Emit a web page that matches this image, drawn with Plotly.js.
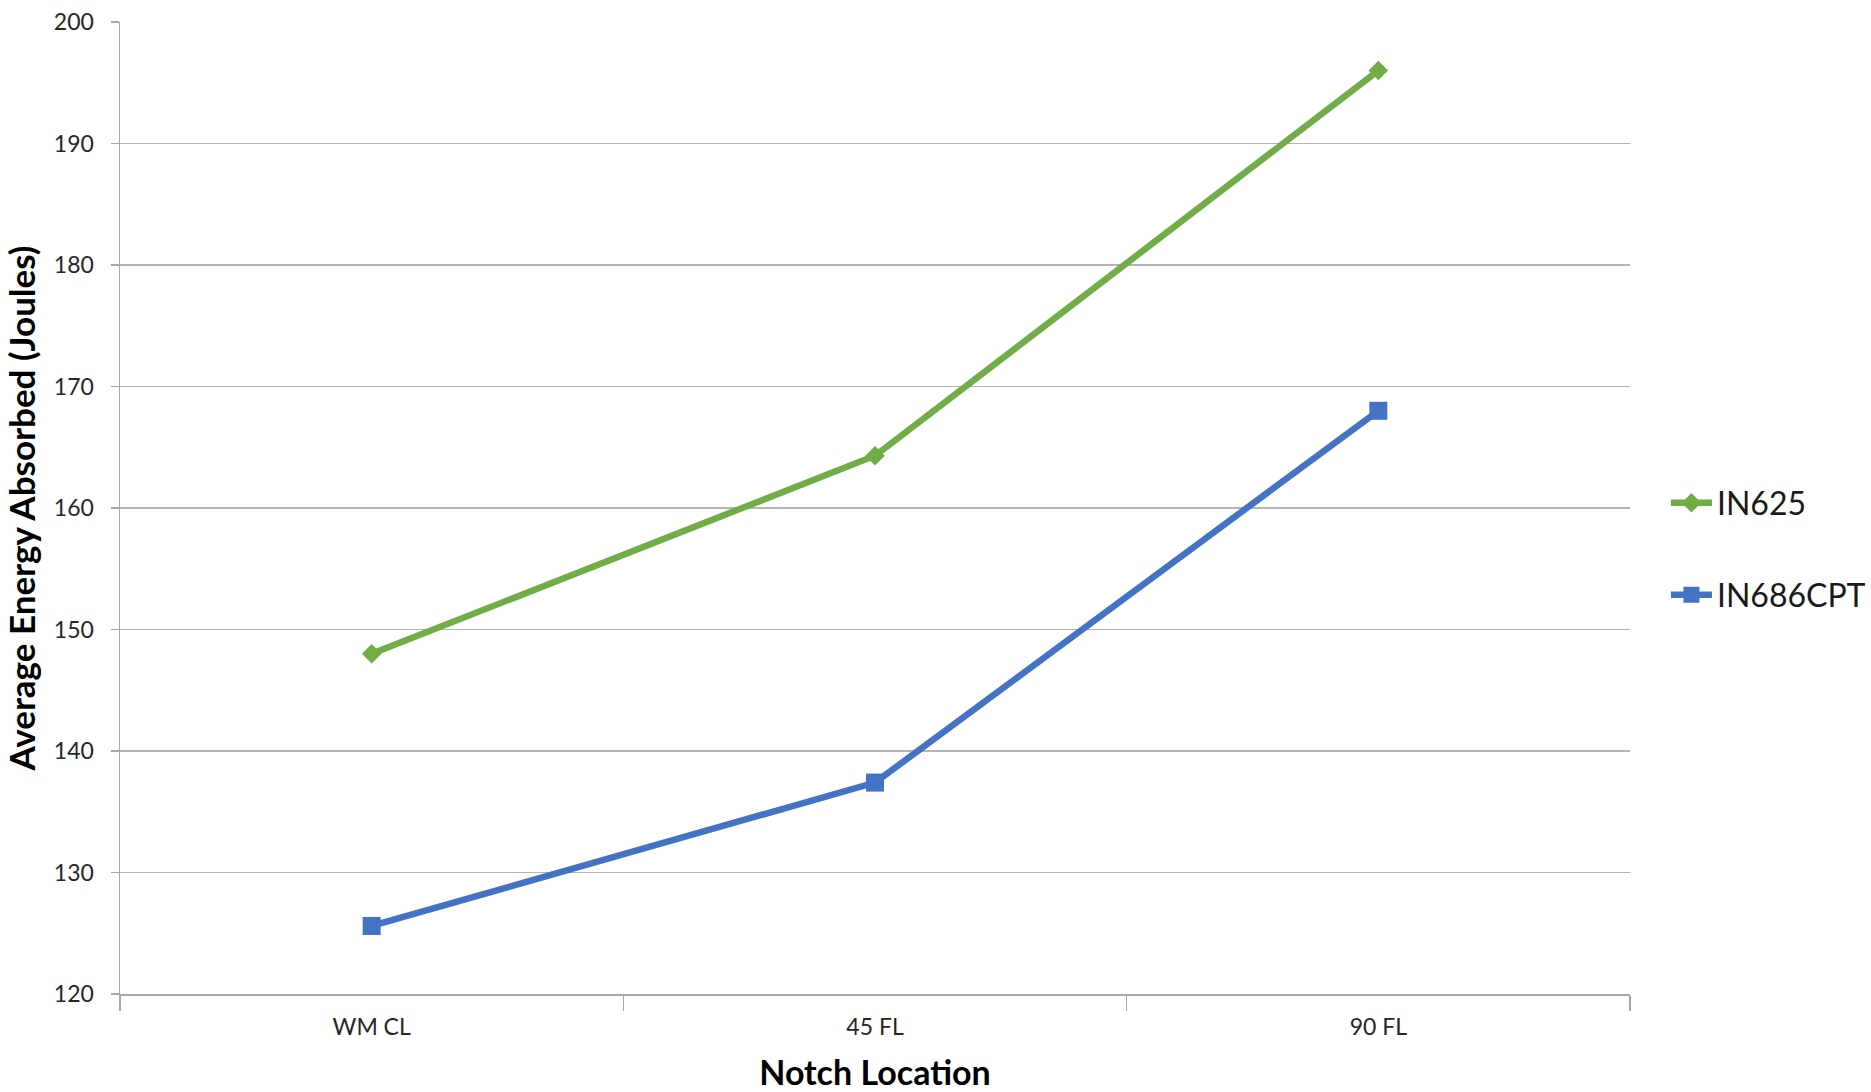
<!DOCTYPE html>
<html>
<head>
<meta charset="utf-8">
<script src="https://cdn.plot.ly/plotly-3.0.1.min.js"></script>
<style>html,body{margin:0;padding:0;background:#fff;}#chart{width:1871px;height:1092px;}</style>
</head>
<body>
<div id="chart"></div>
<script>
const categories = ["WM CL", "45 FL", "90 FL"];
const in625 = [148.0, 164.3, 196.0];
const in686cpt = [125.6, 137.4, 168.0];
const seriesNames = ["IN625", "IN686CPT"];
const yTicks = [120, 130, 140, 150, 160, 170, 180, 190, 200];

const FONT = "Lato, 'Open Sans', sans-serif";
const traces = [
  {
    x: categories, y: in625, name: seriesNames[0], type: "scatter", mode: "lines+markers",
    line: {color: "#70AD47", width: 6.5},
    marker: {symbol: "diamond", size: 15, color: "#70AD47"},
    legend: "legend"
  },
  {
    x: categories, y: in686cpt, name: seriesNames[1], type: "scatter", mode: "lines+markers",
    line: {color: "#4472C4", width: 6.5},
    marker: {symbol: "square", size: 18, color: "#4472C4"},
    legend: "legend2"
  }
];

const legendBase = {
  xref: "container", yref: "container", x: 0.8904, xanchor: "left", yanchor: "middle",
  itemwidth: 41,
  font: {family: FONT, size: 32, color: "#1a1a1a"}, bgcolor: "rgba(0,0,0,0)", borderwidth: 0
};

const layout = {
  width: 1871, height: 1092, autosize: false,
  margin: {l: 120, r: 241, t: 22, b: 98, pad: 0},
  paper_bgcolor: "#ffffff", plot_bgcolor: "#ffffff",
  font: {family: FONT, color: "#262626"},
  showlegend: true,
  legend: Object.assign({}, legendBase, {y: 0.5394}),
  legend2: Object.assign({}, legendBase, {y: 0.4551}),
  xaxis: {
    type: "category", categoryorder: "array", categoryarray: categories,
    range: [-0.5, 2.5], tickson: "boundaries", ticks: "outside", ticklen: 15, tickwidth: 1.2,
    tickcolor: "#a6a6a6", showline: true, linecolor: "#a6a6a6", linewidth: 1.5,
    showgrid: false, zeroline: false, ticklabelstandoff: 12,
    tickfont: {family: FONT, size: 23, color: "#262626"},
    title: {text: "Notch Location", font: {family: FONT, size: 34, color: "#000", weight: "bold"}, standoff: 22},
    automargin: false
  },
  yaxis: {
    range: [120, 200], tickvals: yTicks, ticks: "outside", ticklen: 8, tickwidth: 1.2,
    tickcolor: "#a6a6a6", showline: true, linecolor: "#a6a6a6", linewidth: 1.5,
    showgrid: true, gridcolor: "#b4b4b4", gridwidth: 1.3, zeroline: false,
    ticklabelstandoff: 12,
    tickfont: {family: FONT, size: 23, color: "#262626"},
    title: {text: "Average Energy Absorbed (Joules)", font: {family: FONT, size: 35, color: "#000", weight: "bold"}, standoff: 10},
    automargin: false
  }
};

Plotly.newPlot("chart", traces, layout, {displayModeBar: false, staticPlot: true});
</script>
</body>
</html>
